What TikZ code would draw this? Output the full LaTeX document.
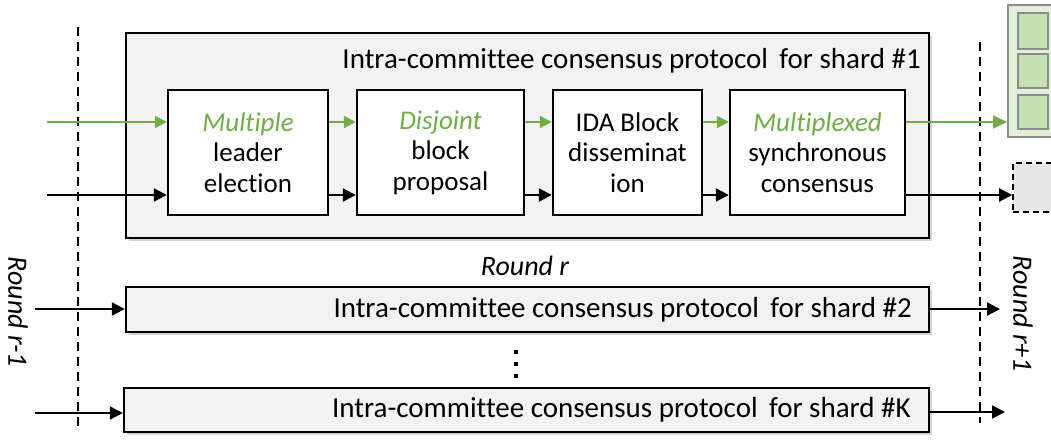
\documentclass[tikz,border=0pt]{standalone}
\usepackage{fontspec}
\setmainfont{Carlito}[Ligatures=NoCommon]
\usetikzlibrary{arrows.meta,shadows,calc}
\definecolor{gfill}{HTML}{F2F2F2}
\definecolor{ggreen}{HTML}{70AD47}
\definecolor{stackfill}{HTML}{E2F0D9}
\definecolor{sqfill}{HTML}{C5E0B4}
\definecolor{stackline}{HTML}{8C8C8C}
\definecolor{dashfill}{HTML}{E7E6E6}
\tikzset{
  shadowed/.style={drop shadow={opacity=0.35,shadow xshift=3pt,shadow yshift=-3pt}},
  bigbox/.style={draw=black,line width=2.4pt,fill=gfill,shadowed,inner sep=0pt},
  stepbox/.style={draw=black,line width=2.4pt,fill=white,minimum height=125pt,inner sep=0pt,align=center,font=\fontsize{27}{30.5}\selectfont},
  shardbox/.style={draw=black,line width=2.4pt,fill=gfill,shadowed,minimum height=45pt,inner sep=0pt},
  lbl/.style={font=\fontsize{29}{32}\selectfont,inner sep=0pt},
  rlbl/.style={font=\fontsize{28}{30}\selectfont\itshape,inner sep=0pt},
  garr/.style={draw=ggreen,line width=2.2pt,-{Triangle[length=12pt,width=12pt]}},
  barr/.style={draw=black,line width=2.2pt,-{Triangle[length=13pt,width=13pt]}},
  divline/.style={draw=black,line width=2.4pt,dash pattern=on 9pt off 6pt}
}
\begin{document}
\begin{tikzpicture}[x=1pt,y=-1pt]
\useasboundingbox (0,0) rectangle (1051,439);
\clip (0,0) rectangle (1051,439);
% dividers
\draw[divline] (78,27) -- (78,430);
\draw[divline] (980,42) -- (980,423);
% big box
\node[bigbox,minimum width=803pt,minimum height=205pt] (big) at (527.5,135.5) {};
\node[lbl,anchor=east] (bigt) at (921,61) {Intra-committee consensus protocol\, for shard \#1};
% step boxes
\node[stepbox,minimum width=160pt] (b1) at (248,152.5) {{\color{ggreen}\itshape Multiple}\\leader\\election};
\node[stepbox,minimum width=167pt] (b2) at (440.5,152.5) {{\color{ggreen}\itshape Disjoint}\\block\\proposal};
\node[stepbox,minimum width=149pt] (b3) at (627.5,152.5) {IDA Block\\disseminat\\ion};
\node[stepbox,minimum width=175pt] (b4) at (817.5,152.5) {{\color{ggreen}\itshape Multiplexed}\\synchronous\\consensus};
% output stack
\node[draw=stackline,line width=2pt,fill=stackfill,minimum width=60pt,minimum height=132pt,inner sep=0pt] (stack) at (1038,71) {};
\node[draw=stackline,line width=2pt,fill=sqfill,minimum width=30pt,minimum height=36pt,inner sep=0pt] (sq1) at (1033,31) {};
\node[draw=stackline,line width=2pt,fill=sqfill,minimum width=30pt,minimum height=34pt,inner sep=0pt] (sq2) at (1033,71) {};
\node[draw=stackline,line width=2pt,fill=sqfill,minimum width=30pt,minimum height=34pt,inner sep=0pt] (sq3) at (1033,112) {};
\node[draw=black,line width=1.6pt,dash pattern=on 6pt off 4pt,fill=dashfill,minimum width=60pt,minimum height=49pt,inner sep=0pt] (dbox) at (1043,187.5) {};
% arrows in big box
\coordinate (gin) at (47,122);
\coordinate (bin) at (47,195);
\draw[garr] (gin) -- ([yshift=30.5pt]b1.west);
\draw[barr] (bin) -- ([yshift=-42.5pt]b1.west);
\draw[garr] ([yshift=30.5pt]b1.east) -- ([yshift=30.5pt]b2.west);
\draw[barr] ([yshift=-42.5pt]b1.east) -- ([yshift=-42.5pt]b2.west);
\draw[garr] ([yshift=30.5pt]b2.east) -- ([yshift=30.5pt]b3.west);
\draw[barr] ([yshift=-42.5pt]b2.east) -- ([yshift=-42.5pt]b3.west);
\draw[garr] ([yshift=30.5pt]b3.east) -- ([yshift=30.5pt]b4.west);
\draw[barr] ([yshift=-42.5pt]b3.east) -- ([yshift=-42.5pt]b4.west);
\draw[draw=ggreen,line width=2.2pt,-{Triangle[length=14pt,width=13pt]}] ([yshift=30.5pt]b4.east) -- (stack.west |- 0,122);
\draw[barr] ([yshift=-42.5pt]b4.east) -- (dbox.west |- 0,195);
% round r
\node[rlbl] (rr) at (525,266) {Round r};
% shard boxes
\node[shardbox,minimum width=803pt] (s2) at (527.5,309.5) {};
\node[lbl,anchor=east] (s2t) at (912,309.5) {Intra-committee consensus protocol\, for shard \#2};
\node[shardbox,minimum width=805pt,minimum height=44pt] (sK) at (526.5,410) {};
\node[lbl,anchor=east] (sKt) at (911,410) {Intra-committee consensus protocol\, for shard \#K};
% dots
\fill (514,350) rectangle (518,354);
\fill (514,362) rectangle (518,366);
\fill (514,374) rectangle (518,378);
% shard arrows
\coordinate (s2in) at (35,309);
\coordinate (sKin) at (35,413);
\coordinate (s2out) at (1000,309);
\coordinate (sKout) at (1005,412);
\draw[barr] (s2in) -- (s2.west |- s2in);
\draw[barr] (sKin) -- (sK.west |- sKin);
\draw[barr] (s2.east |- s2out) -- (s2out);
\draw[barr] (sK.east |- sKout) -- (sKout);
% side labels
\node[rlbl,rotate=-90] (rm1) at (18,312) {Round r-1};
\node[rlbl,rotate=-90] (rp1) at (1023,314) {Round r+1};
\end{tikzpicture}
\end{document}
